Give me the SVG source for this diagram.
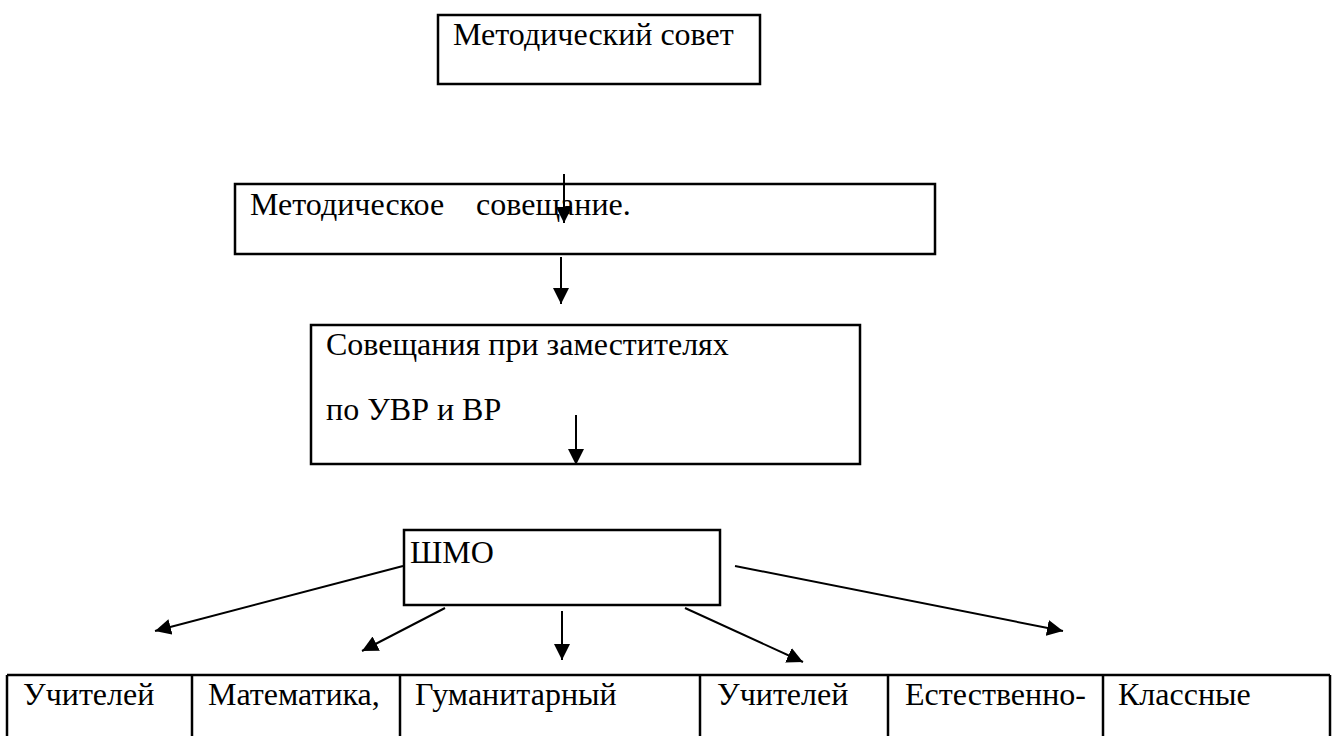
<svg xmlns="http://www.w3.org/2000/svg" width="1341" height="736" viewBox="0 0 1341 736">
<defs>
<style>
.box{fill:#fff;stroke:#000;stroke-width:2.5}
.t{font-family:'Liberation Serif',serif;font-size:32px;fill:#000}
.c{stroke:#000;stroke-width:2;fill:none;marker-end:url(#ah)}
.tl{stroke:#000;stroke-width:2.5;fill:none}
</style>
<marker id="ah" markerWidth="16" markerHeight="16" refX="16" refY="8" orient="auto" markerUnits="userSpaceOnUse">
<path d="M0,0 L16,8 L0,16 Z" fill="#000"/>
</marker>
</defs>
<rect width="1341" height="736" fill="#fff"/>
<g id="n1"><rect class="box" x="438" y="15" width="322" height="69"/><text class="t" x="453" y="45">Методический совет</text></g>
<g id="n2"><rect class="box" x="235" y="184" width="700" height="70"/><text class="t" x="250" y="215" xml:space="preserve">Методическое    совещание.</text></g>
<g id="n3"><rect class="box" x="311" y="325" width="549" height="139"/><text class="t" x="326" y="355">Совещания при заместителях</text><text class="t" x="326" y="420">по УВР и ВР</text></g>
<g id="n4"><rect class="box" x="404" y="530" width="316" height="75"/><text class="t" x="410" y="563">ШМО</text></g>
<g id="table">
<line class="tl" x1="7" y1="675" x2="1330" y2="675"/>
<line class="tl" x1="7" y1="675" x2="7" y2="736"/>
<line class="tl" x1="192" y1="675" x2="192" y2="736"/>
<line class="tl" x1="400" y1="675" x2="400" y2="736"/>
<line class="tl" x1="700" y1="675" x2="700" y2="736"/>
<line class="tl" x1="888" y1="675" x2="888" y2="736"/>
<line class="tl" x1="1103" y1="675" x2="1103" y2="736"/>
<line class="tl" x1="1330" y1="675" x2="1330" y2="736"/>
<text class="t" x="23" y="705">Учителей</text>
<text class="t" x="208" y="705">Математика,</text>
<text class="t" x="415" y="705">Гуманитарный</text>
<text class="t" x="717" y="705">Учителей</text>
<text class="t" x="905" y="705">Естественно-</text>
<text class="t" x="1118" y="705">Классные</text>
</g>
<g id="connectors">
<line class="c" x1="564" y1="174" x2="564" y2="223"/>
<line class="c" x1="561" y1="257" x2="561" y2="304"/>
<line class="c" x1="576" y1="415" x2="576" y2="465"/>
<line class="c" x1="403" y1="566" x2="155" y2="631"/>
<line class="c" x1="445" y1="608" x2="362" y2="651"/>
<line class="c" x1="562" y1="611" x2="562" y2="660"/>
<line class="c" x1="685" y1="608" x2="803" y2="662"/>
<line class="c" x1="735" y1="566" x2="1063" y2="631"/>
</g>
</svg>
